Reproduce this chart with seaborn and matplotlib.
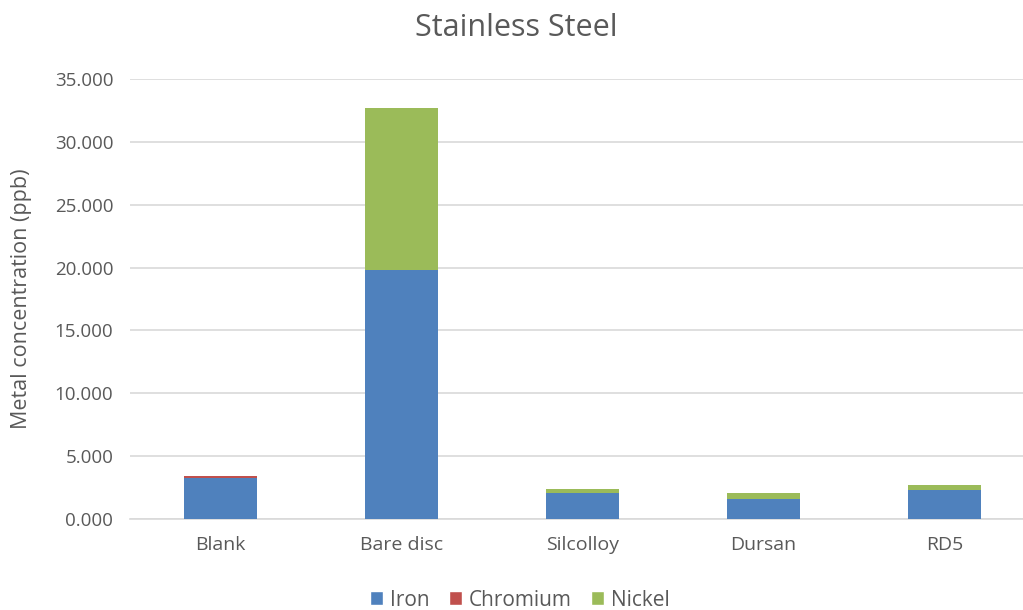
import numpy as np
import pandas as pd
import matplotlib.pyplot as plt
import seaborn as sns
from matplotlib.patches import Patch

categories = ["Blank", "Bare disc", "Silcolloy", "Dursan", "RD5"]
iron = [3.30, 19.80, 2.05, 1.57, 2.30]
chromium = [0.15, 0.00, 0.00, 0.00, 0.00]
nickel = [0.00, 12.90, 0.30, 0.50, 0.38]

colors = {"Iron": "#4F81BD", "Chromium": "#C0504D", "Nickel": "#9BBB59"}
text_col = "#595959"

df = pd.DataFrame({"sample": categories, "Iron": iron,
                   "Chromium": chromium, "Nickel": nickel})

sns.set_style("white")
plt.rcParams["font.family"] = ["Open Sans", "DejaVu Sans"]

fig = plt.figure(figsize=(10.23, 6.1), dpi=100)
ax = fig.add_axes([130 / 1023, 1 - 519 / 610, 905 / 1023, 440 / 610])

bottom = np.zeros(len(categories))
for metal in ["Iron", "Chromium", "Nickel"]:
    sns.barplot(data=df, x="sample", y=metal, color=colors[metal],
                bottom=bottom, width=0.4, saturation=1, linewidth=0,
                ax=ax, zorder=3)
    bottom += df[metal].values

ax.set_ylim(0, 35)
ax.set_yticks(np.arange(0, 35.1, 5))
ax.set_yticklabels([f"{v:.3f}" for v in np.arange(0, 35.1, 5)])
ax.yaxis.grid(True, color="#d9d9d9", linewidth=1.2, zorder=0)
ax.set_axisbelow(True)
for s in ["top", "right", "left"]:
    ax.spines[s].set_visible(False)
ax.spines["bottom"].set_color("#d9d9d9")
ax.spines["bottom"].set_linewidth(1.2)
ax.tick_params(axis="y", length=0, labelsize=13.5, colors=text_col, pad=12)
ax.tick_params(axis="x", length=0, labelsize=14, colors=text_col, pad=12)
ax.set_xlabel("")
ax.set_ylabel("Metal concentration (ppb)", fontsize=15.5, color=text_col)
ax.yaxis.set_label_coords(-98 / 905, 0.5)

fig.suptitle("Stainless Steel", x=516 / 1023, y=1 - 28 / 610, va="center",
             fontsize=22, color=text_col)

handles = [Patch(facecolor=colors[m], label=m) for m in ["Iron", "Chromium", "Nickel"]]
fig.legend(handles=handles, loc="center", bbox_to_anchor=(520 / 1023, 1 - 600 / 610),
           ncol=3, frameon=False, fontsize=15, handlelength=0.63, handleheight=0.63,
           handletextpad=0.35, columnspacing=0.9, labelcolor=text_col)

fig.savefig("out.png", dpi=100)
